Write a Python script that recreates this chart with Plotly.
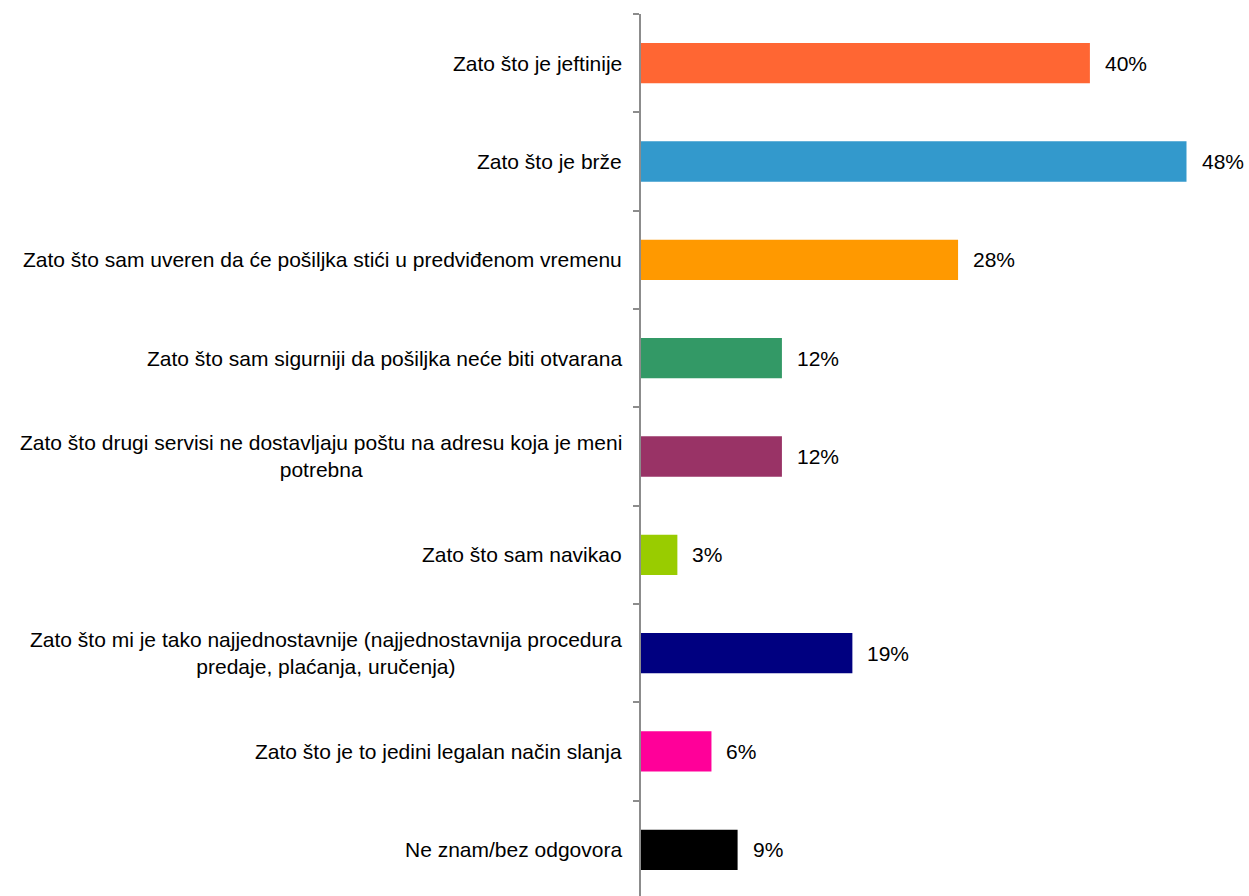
import plotly.graph_objects as go

categories = [
    "Zato što je jeftinije",
    "Zato što je brže",
    "Zato što sam uveren da će pošiljka stići u predviđenom vremenu",
    "Zato što sam sigurniji da pošiljka neće biti otvarana",
    "Zato što drugi servisi ne dostavljaju poštu na adresu koja je meni<br>potrebna",
    "Zato što sam navikao",
    "Zato što mi je tako najjednostavnije (najjednostavnija procedura<br>predaje, plaćanja, uručenja)",
    "Zato što je to jedini legalan način slanja",
    "Ne znam/bez odgovora",
]
values = [39.5, 48.0, 27.9, 12.4, 12.4, 3.2, 18.6, 6.2, 8.5]
value_labels = ["40%", "48%", "28%", "12%", "12%", "3%", "19%", "6%", "9%"]
colors = ["#FF6633", "#3399CC", "#FF9900", "#339966", "#993366",
          "#99CC00", "#000080", "#FF0099", "#000000"]

FONT = "Liberation Sans, Arial, sans-serif"
idx = list(range(len(categories)))

fig = go.Figure()
fig.add_trace(go.Bar(
    x=values, y=idx, orientation="h",
    marker=dict(color=colors, line=dict(width=0)),
    width=0.41, hoverinfo="skip",
))

annotations = []
for i, (v, lab) in enumerate(zip(values, value_labels)):
    annotations.append(dict(
        x=v, y=i, xref="x", yref="y", text=lab, showarrow=False,
        xanchor="left", yanchor="middle", xshift=13,
        font=dict(family=FONT, size=21, color="#000000"),
    ))
for i, c in enumerate(categories):
    annotations.append(dict(
        x=0, y=i, xref="paper", yref="y", text=c, showarrow=False,
        xanchor="right", yanchor="middle", xshift=-17, align="center",
        font=dict(family=FONT, size=21, color="#000000"),
    ))

fig.update_layout(
    width=1249, height=896,
    margin=dict(l=641, r=0, t=14, b=0),
    paper_bgcolor="white", plot_bgcolor="white",
    showlegend=False,
    annotations=annotations,
    xaxis=dict(range=[0, 53.5], visible=False, showgrid=False, zeroline=False),
    yaxis=dict(
        range=[8.47, -0.5],
        tickmode="array", tickvals=[i - 0.5 for i in idx], ticktext=[""] * len(idx),
        showline=True, linecolor="#8C8C8C", linewidth=1.5,
        ticks="outside", ticklen=6, tickcolor="#8C8C8C", tickwidth=1.5,
        showgrid=False, zeroline=False,
    ),
)

fig.write_html(
    "out.html",
    config={"displayModeBar": False},
    post_script=(
        "document.documentElement.style.margin='0';"
        "document.body.style.margin='0';"
        "document.documentElement.style.overflow='hidden';"
        "document.body.style.overflow='hidden';"
    ),
)
